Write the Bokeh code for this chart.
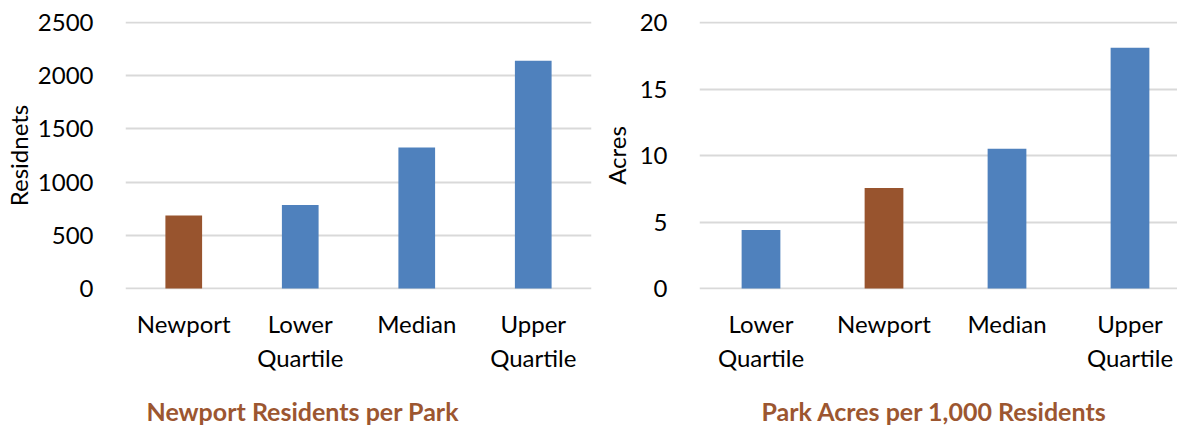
from bokeh.plotting import figure
from bokeh.models import Range1d, FixedTicker, ColumnDataSource, Title
from bokeh.layouts import row
from bokeh.embed import file_html
from bokeh.resources import INLINE

# ---- data ----
left_categories = ["Newport", "Lower Quartile", "Median", "Upper Quartile"]
left_values = [685, 785, 1325, 2140]
left_ticks = [0, 500, 1000, 1500, 2000, 2500]
left_title = "Newport Residents per Park"
left_ylabel = "Residnets"

right_categories = ["Lower Quartile", "Newport", "Median", "Upper Quartile"]
right_values = [4.4, 7.55, 10.5, 18.1]
right_ticks = [0, 5, 10, 15, 20]
right_title = "Park Acres per 1,000 Residents"
right_ylabel = "Acres"

BLUE = "#4F81BD"
BROWN = "#98542E"
TITLE_BROWN = "#9C5630"
GRID = "#D9D9D9"
FONT = "Lato"


def make_panel(cats, vals, ticks, title, ylabel, frame_w, borders,
               x_end, y_top, title_offset, axis_label_standoff):
    n = len(cats)
    xs = list(range(n))
    colors = [BROWN if c == "Newport" else BLUE for c in cats]
    labels = {i: c.replace(" ", "\n") for i, c in enumerate(cats)}
    src = ColumnDataSource(dict(x=xs, top=vals, color=colors))
    pad = y_top / 266.0
    p = figure(frame_width=frame_w, frame_height=268, output_backend="svg",
               toolbar_location=None, tools="",
               x_range=Range1d(-0.5, x_end),
               y_range=Range1d(-pad, y_top + pad))
    p.min_border_left, p.min_border_right, p.min_border_top, p.min_border_bottom = borders
    p.outline_line_color = None
    p.background_fill_color = "white"
    p.border_fill_color = "white"

    p.vbar(x="x", top="top", bottom=0, width=0.315, color="color",
           line_color=None, source=src)

    p.xgrid.grid_line_color = None
    p.ygrid.grid_line_color = GRID
    p.ygrid.grid_line_width = 2
    p.ygrid.ticker = FixedTicker(ticks=ticks)

    p.yaxis.ticker = FixedTicker(ticks=ticks)
    p.yaxis.axis_line_color = None
    p.yaxis.major_tick_line_color = None
    p.yaxis.minor_tick_line_color = None
    p.yaxis.major_label_standoff = 26
    p.yaxis.major_label_text_font = FONT
    p.yaxis.major_label_text_font_size = "24px"
    p.yaxis.major_label_text_color = "#000000"
    p.yaxis.axis_label = ylabel
    p.yaxis.axis_label_text_font = FONT
    p.yaxis.axis_label_text_font_size = "24px"
    p.yaxis.axis_label_text_font_style = "normal"
    p.yaxis.axis_label_text_color = "#000000"
    p.yaxis.axis_label_standoff = axis_label_standoff

    p.xaxis.ticker = FixedTicker(ticks=xs)
    p.xaxis.major_label_overrides = labels
    p.xaxis.axis_line_color = None
    p.xaxis.major_tick_line_color = None
    p.xaxis.minor_tick_line_color = None
    p.xaxis.major_label_standoff = 13
    p.xaxis.major_label_text_font = FONT
    p.xaxis.major_label_text_font_size = "24px"
    p.xaxis.major_label_text_color = "#000000"

    t = Title(text=title, align="left", offset=title_offset,
              text_font=FONT, text_font_size="25px", text_font_style="bold",
              text_color=TITLE_BROWN, standoff=37)
    p.add_layout(t, "below")
    return p


left = make_panel(left_categories, left_values, left_ticks, left_title,
                  left_ylabel, 466, (116, 7, 17, 0), 3.5, 2500,
                  21, 2)
right = make_panel(right_categories, right_values, right_ticks, right_title,
                   right_ylabel, 478, (91, 0, 21, 0),
                   -0.5 + 478 / 123.0, 20, 62, 6)

layout = row(left, right)
open("out.html", "w").write(file_html(layout, INLINE))
